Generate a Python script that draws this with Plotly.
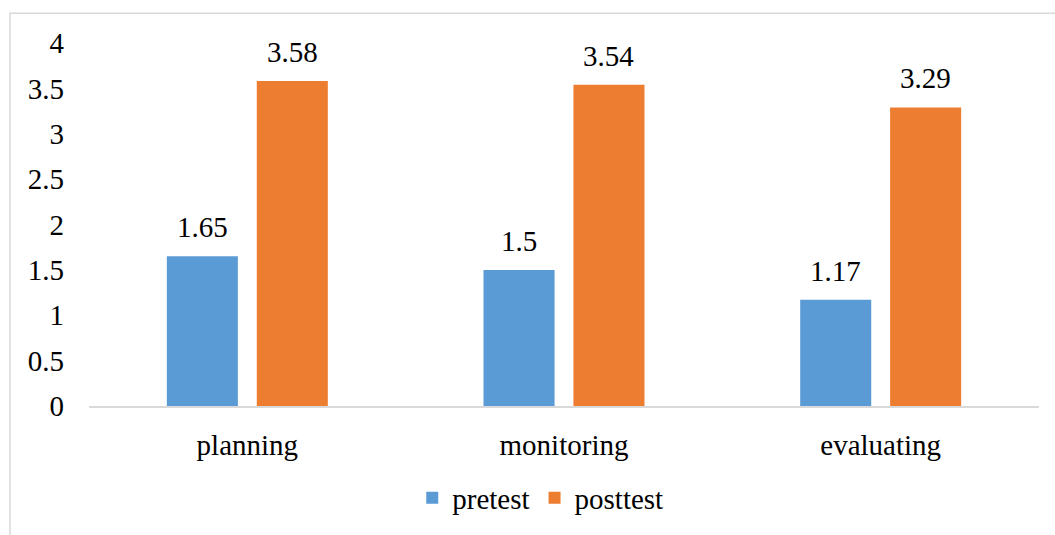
import plotly.graph_objects as go

categories = ["planning", "monitoring", "evaluating"]
pretest = [1.65, 1.5, 1.17]
posttest = [3.58, 3.54, 3.29]
y_ticks = [0, 0.5, 1, 1.5, 2, 2.5, 3, 3.5, 4]
y_tick_labels = ["0", "0.5", "1", "1.5", "2", "2.5", "3", "3.5", "4"]

FONT = "Liberation Serif"
FS = 29
W, H = 1055, 535
L, R, T, B = 89, 16, 43, 125
plot_w = W - L - R
plot_h = H - T - B
BARGAP = 0.432
GROUPGAP = 0.21

fig = go.Figure()
fig.add_trace(go.Bar(name="pretest", x=categories, y=pretest,
                     marker=dict(color="#5B9BD5", line=dict(width=0))))
fig.add_trace(go.Bar(name="posttest", x=categories, y=posttest,
                     marker=dict(color="#ED7D31", line=dict(width=0))))

# value labels above each bar, offset sideways to the bar's slot in the group
slot_px = (1 - BARGAP) * plot_w / len(categories) / 2
for series, shift in ((pretest, -slot_px / 2), (posttest, slot_px / 2)):
    for cat, val in zip(categories, series):
        fig.add_annotation(x=cat, y=val, text=f"{val:g}", showarrow=False,
                           xanchor="center", yanchor="bottom",
                           xshift=shift, yshift=11,
                           font=dict(family=FONT, size=FS, color="#000000"))

# light frame around the chart area (right and bottom edges fall outside the page)
fx0 = (10 - L) / plot_w
fy1 = (H - B - 13) / plot_h
fig.add_shape(type="rect", xref="paper", yref="paper",
              x0=fx0, x1=1.2, y0=-1.0, y1=fy1,
              line=dict(color="#D9D9D9", width=1.5), fillcolor="rgba(0,0,0,0)",
              layer="below")

fig.update_layout(
    width=W, height=H,
    margin=dict(l=L, r=R, t=T, b=B),
    paper_bgcolor="white", plot_bgcolor="white",
    barmode="group", bargap=BARGAP, bargroupgap=GROUPGAP,
    font=dict(family=FONT, size=FS, color="#000000"),
    showlegend=True,
    legend=dict(orientation="h", x=0.475, xanchor="center",
                y=(H - B - 503) / plot_h, yanchor="middle",
                font=dict(family=FONT, size=FS, color="#000000"),
                itemwidth=30, tracegroupgap=0, bgcolor="rgba(0,0,0,0)"),
    xaxis=dict(showgrid=False, showline=True, linecolor="#D9D9D9", linewidth=2,
               ticks="", ticklabelstandoff=12,
               tickfont=dict(family=FONT, size=FS, color="#000000")),
    yaxis=dict(range=[0, 4], showgrid=False, showline=False, zeroline=False,
               tickvals=y_ticks, ticktext=y_tick_labels, ticks="",
               ticklabelstandoff=24,
               tickfont=dict(family=FONT, size=FS, color="#000000")),
)

fig.write_html("out.html")
